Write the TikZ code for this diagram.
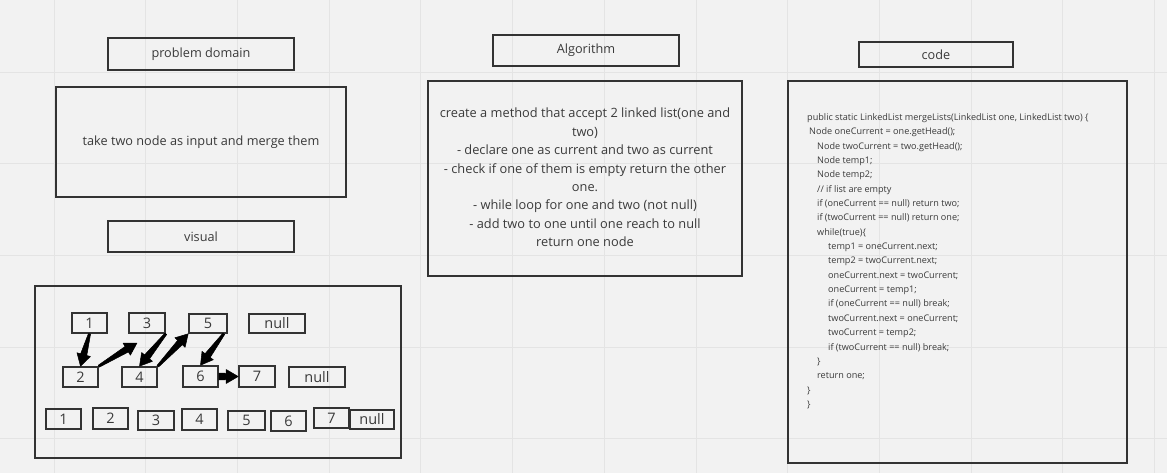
\documentclass[tikz,border=0pt]{standalone}
\usepackage{fontspec}
\setmainfont{Open Sans}
\usetikzlibrary{arrows.meta,calc}
\definecolor{bg}{HTML}{F2F2F2}
\definecolor{gridc}{HTML}{E4E4E4}
\definecolor{ink}{HTML}{333333}
\definecolor{txt}{HTML}{3A3A3A}
\tikzset{
  box/.style={draw=ink, line width=1.6pt, inner sep=0pt, text=txt, font=\fontsize{12.7}{15}\selectfont},
  numbox/.style={draw=ink, line width=1.6pt, inner sep=0pt, text=txt, font=\fontsize{14.5}{16}\selectfont},
  link/.style={fill=black, draw=black, line width=0.5pt, line join=round},
}
\newcommand{\boxat}[6]{% name, x1,y1,x2,y2, text
  \node[box, minimum width={#4-#2}, minimum height={#5-#3}] (#1) at ({(#2+#4)/2},{(#3+#5)/2}) {#6};}
\newcommand{\numat}[6]{%
  \node[numbox, minimum width={#4-#2}, minimum height={#5-#3}] (#1) at ({(#2+#4)/2},{(#3+#5)/2}) {#6};}
% tapered arrow: #1 from, #2 to, #3 tail half-width
\newcommand{\taper}[3]{%
  \path #1 coordinate (tS);
  \path #2 coordinate (tT);
  \coordinate (tH) at ($(tT)!12pt!(tS)$);
  \filldraw[link] ($(tS)!#3!90:(tT)$) -- ($(tH)!3.2pt!90:(tT)$) -- ($(tH)!7pt!90:(tT)$) -- (tT)
     -- ($(tH)!7pt!-90:(tT)$) -- ($(tH)!3.2pt!-90:(tT)$) -- ($(tS)!#3!-90:(tT)$) -- cycle;}
\begin{document}
\begin{tikzpicture}[x=1pt,y=-1pt]
\fill[bg] (0,0) rectangle (1167,473);
\useasboundingbox (0,0) rectangle (1167,473);
% grid
\foreach \k in {0,...,12} { \draw[gridc, line width=0.8pt] ({54+91.7*\k},0) -- ({54+91.7*\k},473); }
\foreach \k in {0,...,4} { \draw[gridc, line width=0.8pt] (0,{72+91.7*\k}) -- (1167,{72+91.7*\k}); }

% left column
\boxat{pd}{108}{38}{294}{70}{problem domain}
\boxat{pdt}{56}{87}{346}{197}{take two node as input and merge them}
\boxat{vis}{108}{221}{294}{252}{visual}
\boxat{visbox}{35}{286}{401}{458}{}

% visual nodes row 1
\numat{a1}{72}{313}{107}{333}{1}
\numat{a3}{129}{313}{165}{333}{3}
\numat{a5}{189}{314}{227}{333}{5}
\numat{an}{249}{314}{305}{333}{null}
% row 2
\numat{a2}{63}{367}{98}{387}{2}
\numat{a4}{122}{367}{157}{387}{4}
\numat{a6}{183}{366}{218}{387}{6}
\numat{a7}{239}{366}{275}{387}{7}
\numat{bn}{289}{367}{345}{387}{null}
% row 3
\numat{c1}{46}{409}{81}{429}{1}
\numat{c2}{93}{408}{128}{429}{2}
\numat{c3}{138}{411}{174}{430}{3}
\numat{c4}{182}{409}{217}{430}{4}
\numat{c5}{228}{411}{265}{430}{5}
\numat{c6}{271}{411}{306}{431}{6}
\numat{c7}{314}{408}{349}{428}{7}
\numat{cn}{350}{410}{394}{429}{null}

\coordinate (e23) at (137,343);
\taper{(a1.south)}{(a2.north)}{1.1pt}
\taper{(a2.north east)}{(e23)}{1.1pt}
\taper{(a3.south east)}{(a4.north)}{1.1pt}
\taper{(a4.north east)}{(a5.south west)}{1.1pt}
\taper{([xshift=-4pt]a5.south east)}{(a6.north)}{1.1pt}
\taper{(a6.east)}{(a7.west)}{3.5pt}

% algorithm
\boxat{alg}{493}{35}{679}{66}{Algorithm}
\boxat{algbox}{428}{81}{742}{276}{}
\node[text=txt, align=center, font=\fontsize{12.8}{18.4}\selectfont, inner sep=0pt] (algt) at (585,177.5) {create a method that accept 2 linked list(one and\\two)\\- declare one as current and two as current\\- check if one of them is empty return the other\\one.\\- while loop for one and two (not null)\\- add two to one until one reach to null\\return one node};

% code
\boxat{cd}{859}{42}{1013}{67}{code}
\boxat{cdbox}{788}{81}{1127}{463}{}
\node[text=txt, align=left, anchor=north west, font=\fontsize{9.1}{14.35}\selectfont, inner sep=0pt] (codet) at (807,113.3) {%
public static LinkedList mergeLists(LinkedList one, LinkedList two) \{\\
\hspace*{2pt}Node oneCurrent = one.getHead();\\
\hspace*{10pt}Node twoCurrent = two.getHead();\\
\hspace*{10pt}Node temp1;\\
\hspace*{10pt}Node temp2;\\
\hspace*{10pt}// if list are empty\\
\hspace*{10pt}if (oneCurrent == null) return two;\\
\hspace*{10pt}if (twoCurrent == null) return one;\\
\hspace*{10pt}while(true)\{\\
\hspace*{21pt}temp1 = oneCurrent.next;\\
\hspace*{21pt}temp2 = twoCurrent.next;\\
\hspace*{21pt}oneCurrent.next = twoCurrent;\\
\hspace*{21pt}oneCurrent = temp1;\\
\hspace*{21pt}if (oneCurrent == null) break;\\
\hspace*{21pt}twoCurrent.next = oneCurrent;\\
\hspace*{21pt}twoCurrent = temp2;\\
\hspace*{21pt}if (twoCurrent == null) break;\\
\hspace*{10pt}\}\\
\hspace*{10pt}return one;\\
\}\\
\}};
\end{tikzpicture}
\end{document}
